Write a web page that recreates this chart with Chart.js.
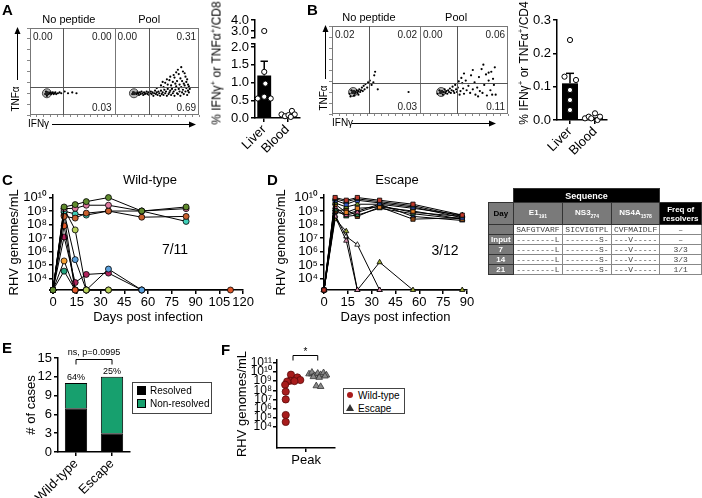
<!DOCTYPE html>
<html>
<head>
<meta charset="utf-8">
<script src="https://cdn.jsdelivr.net/npm/chart.js@4.4.1/dist/chart.umd.min.js"></script>
<style>
body { margin: 0; background: #fff; }
#fig { position: relative; width: 702px; height: 498px; overflow: hidden; font-family: 'Liberation Sans', Arial, sans-serif; color: #000; }
#fig canvas { position: absolute; }
.lbl { position: absolute; font-weight: bold; font-size: 15px; line-height: 15px; }
.txt { position: absolute; white-space: nowrap; transform: translate(-50%, -50%); }
.rot { position: absolute; white-space: nowrap; font-size: 12px; transform: translate(-50%, -50%) rotate(-90deg); }
.rot sup { font-size: 8px; }
.leg { position: absolute; border: 1px solid #444; font-size: 10px; background: #fff; }
.leg div { position: relative; height: 13px; line-height: 13px; padding-left: 17px; white-space: nowrap; }
.sw { position: absolute; left: 4px; top: 2px; width: 9px; height: 9px; }
#seq { position: absolute; left: 488px; top: 188px; border-collapse: collapse; table-layout: fixed; font-size: 8px; }
#seq td { border: 1px solid #333; padding: 0; text-align: center; overflow: hidden; white-space: nowrap; }
#seq td.blank { border: none; }
#seq td.blk { background: #000; color: #fff; font-weight: bold; }
#seq td.gry { background: #7a7a7a; color: #fff; font-weight: bold; }
#seq td.mono { font-family: 'Liberation Mono', 'Courier New', monospace; color: #444; border-color: #888; }
#seq tr.dat td { height: 9px; line-height: 9px; }
#seq sub { font-size: 5px; }
</style>
</head>
<body>
<div id="fig">
  <canvas id="flowA" width="205" height="127" style="left:0;top:8px"></canvas>
  <canvas id="cd8Lo" width="100" height="137" style="left:205px;top:33px"></canvas>
  <canvas id="cd8Up" width="100" height="42" style="left:205px;top:8px"></canvas>
  <canvas id="flowB" width="201" height="127" style="left:314px;top:8px"></canvas>
  <canvas id="cd4Bar" width="105" height="167" style="left:510px;top:8px"></canvas>
  <canvas id="wtLine" width="255" height="140" style="left:0;top:185px"></canvas>
  <canvas id="escLine" width="215" height="140" style="left:262px;top:185px"></canvas>
  <canvas id="eBar" width="124" height="158" style="left:8px;top:340px"></canvas>
  <canvas id="fPeak" width="105" height="125" style="left:235px;top:345px"></canvas>

  <div class="lbl" style="left:2px;top:2px">A</div>
  <div class="lbl" style="left:307px;top:2px">B</div>
  <div class="lbl" style="left:2px;top:172px">C</div>
  <div class="lbl" style="left:267px;top:172px">D</div>
  <div class="lbl" style="left:2px;top:340px">E</div>
  <div class="lbl" style="left:221px;top:342px">F</div>

  <div class="rot" style="left:216px;top:63px">% IFNγ<sup>+</sup> or TNFα<sup>+</sup>/CD8</div>
  <div class="rot" style="left:523px;top:63px">% IFNγ<sup>+</sup> or TNFα<sup>+</sup>/CD4</div>

  <div class="txt" style="left:150px;top:179px;font-size:13px">Wild-type</div>
  <div class="txt" style="left:397px;top:179px;font-size:13px">Escape</div>
  <div class="txt" style="left:175px;top:249px;font-size:14px">7/11</div>
  <div class="txt" style="left:445px;top:250px;font-size:14px">3/12</div>

  <table id="seq">
    <colgroup><col style="width:25px"><col style="width:50px"><col style="width:49px"><col style="width:49px"><col style="width:42px"></colgroup>
    <tr style="height:14px"><td class="blank"></td><td class="blk" colspan="3" style="font-size:9px">Sequence</td><td class="blank"></td></tr>
    <tr style="height:22px"><td class="gry" style="color:#000">Day</td><td class="gry">E1<sub>191</sub></td><td class="gry">NS3<sub>274</sub></td><td class="gry">NS4A<sub>1578</sub></td><td class="blk" style="line-height:9px">Freq of<br>resolvers</td></tr>
    <tr class="dat"><td class="gry"></td><td class="mono">SAFGTVARF</td><td class="mono">SICVIGTPL</td><td class="mono">CVFMAIDLF</td><td class="mono">–</td></tr>
    <tr class="dat"><td class="gry">Input</td><td class="mono">--------L</td><td class="mono">-------S-</td><td class="mono">---V-----</td><td class="mono">–</td></tr>
    <tr class="dat"><td class="gry">7</td><td class="mono">--------L</td><td class="mono">-------S-</td><td class="mono">---V-----</td><td class="mono">3/3</td></tr>
    <tr class="dat"><td class="gry">14</td><td class="mono">--------L</td><td class="mono">-------S-</td><td class="mono">---V-----</td><td class="mono">3/3</td></tr>
    <tr class="dat"><td class="gry">21</td><td class="mono">--------L</td><td class="mono">-------S-</td><td class="mono">---V-----</td><td class="mono">1/1</td></tr>
  </table>

  <div class="leg" style="left:132px;top:382px;width:78px;height:29px;padding-top:1px">
    <div><span class="sw" style="background:#000"></span>Resolved</div>
    <div><span class="sw" style="background:#17a06e;border:1px solid #000;width:7px;height:7px"></span>Non-resolved</div>
  </div>
  <div class="leg" style="left:343px;top:388px;width:60px;height:24px;padding-top:0">
    <div style="padding-left:14px"><span class="sw" style="left:3px;top:3px;width:6px;height:6px;border-radius:50%;background:#a81c1c"></span>Wild-type</div>
    <div style="padding-left:14px"><span class="sw" style="left:2px;top:2px;width:0;height:0;border-left:4px solid transparent;border-right:4px solid transparent;border-bottom:7px solid #333"></span>Escape</div>
  </div>
</div>

<script>
Chart.defaults.font.family = "'Liberation Sans', Arial, sans-serif";
Chart.defaults.color = '#000';
Chart.defaults.animation = false;
Chart.defaults.responsive = false;
Chart.defaults.plugins.legend.display = false;
Chart.defaults.plugins.tooltip.enabled = false;
Chart.defaults.scale.ticks.autoSkip = false;

// ---------- data ----------
const LOD = 1400; // undetectable samples sit on the x axis

// A / B flow events: x = IFNγ, y = TNFα; "No peptide" on 0-100, "Pool" on 100-200
const flowHeaders = ['No peptide', 'Pool'];
const cd8Blobs = [[20, 25], [123, 25]];
const cd8NoPep = [[18,24],[21,26],[22,24],[23,25],[24,26],[25,24],[26,25],[27,26],[28,24],[29,25],[30,26],[31,24],[33,25],[35,26],[37,25],[41,27],[45,25],[50,26],[55,25],[20,22],[19,27]];
const cd8Pool = [[121,24],[122,26],[124,25],[126,24],[127,26],[128,25],[129,23],[130,26],[131,24],[132,27],[133,25],[134,23],[135,26],[136,24],[137,25],[138,27],[139,24],[140,26],[141,23],[142,25],[143,27],[144,24],[145,26],[146,22],[147,25],[148,28],[149,24],[150,26],[151,23],[152,27],[153,25],[154,22],[155,28],[156,24],[157,26],[158,23],[159,29],[160,25],[161,27],[162,22],[163,30],[164,24],[165,26],[166,28],[167,23],[168,31],[169,25],[170,27],[171,22],[172,29],[173,33],[174,25],[175,24],[176,30],[177,27],[178,22],[179,32],[180,26],[181,29],[182,24],[183,34],[184,27],[185,31],[186,23],[187,28],[188,26],[189,30],[150,31],[155,34],[158,32],[160,37],[163,35],[165,40],[167,34],[169,38],[171,43],[172,36],[174,39],[176,47],[177,35],[178,42],[180,39],[181,50],[182,36],[184,44],[185,38],[186,41],[187,35],[175,52],[179,55],[183,48],[170,46],[166,44],[162,41],[168,30],[188,33],[173,49],[157,38]];
const cd8Quads = [['0.00', '0.00', '0.03'], ['0.00', '0.31', '0.69']];

const cd4Blobs = [[24, 25], [124, 25]];
const cd4NoPep = [[20,23],[22,27],[23,24],[25,26],[26,23],[27,25],[28,27],[29,24],[30,26],[31,28],[32,25],[33,27],[34,30],[35,26],[36,32],[37,28],[38,34],[40,30],[41,36],[43,38],[45,33],[48,44],[49,48],[47,36],[52,28],[87,25],[21,20],[25,21],[30,22]];
const cd4Pool = [[120,23],[122,27],[123,24],[125,26],[126,22],[127,25],[128,28],[129,24],[130,26],[131,23],[132,27],[133,25],[134,29],[135,24],[136,27],[137,31],[138,26],[139,24],[140,33],[141,28],[142,25],[143,30],[144,37],[145,22],[146,26],[148,35],[149,29],[150,23],[152,38],[153,27],[155,32],[157,24],[158,44],[160,28],[162,36],[163,22],[165,30],[167,42],[168,26],[170,51],[171,24],[173,33],[175,45],[176,21],[178,38],[180,27],[181,48],[182,22],[184,33],[185,53],[172,56],[160,50],[150,46],[147,41],[178,47],[183,40],[186,22],[166,20]];
const cd4Quads = [['0.02', '0.02', '0.03'], ['0.00', '0.06', '0.11']];

// A / B bar charts (Liver at x=0, Blood at x=1)
const tissues = ['Liver', 'Blood'];
const cd8Liver = [3.0, 1.3, 0.97, 0.6, 0.55, 0.55];
const cd8LiverX = [0, 0, 0.05, 0, -0.28, 0.28];
const cd8Blood = [0.1, 0.05, 0.08, 0.2, 0.1, 0.03];
const cd8BloodX = [0.75, 0.9, 1.05, 1.2, 1.32, 1.15];
const cd8Mean = [1.2, 0.09];
const cd8Sem = [0.4, 0.03];

const cd4Liver = [0.24, 0.13, 0.12, 0.09, 0.06, 0.03];
const cd4LiverX = [0, -0.22, 0.24, 0, 0, 0];
const cd4Blood = [0.005, 0.01, 0.02, 0.0, 0.01, 0.005];
const cd4BloodX = [0.6, 0.75, 1.0, 1.1, 1.2, 0.85];
const cd4Mean = [0.11, 0.008];
const cd4Sem = [0.03, 0.003];

// C: wild-type infections
const wtDays = [0, 7, 14, 21, 35, 56, 84, 112];
const wtColors = ['#5f8a2c', '#e07aa0', '#c8602e', '#3fcfb8', '#b8d15a', '#5aa0dc', '#e0582a', '#b0245c', '#f5a033', '#23a37e', '#28407a'];
const wtLoads = [
  [LOD, 2e9, 3e9, 5e9, 1e10, 1e9, 2e9, null],
  [LOD, 1.5e9, 1.6e9, 2.7e9, 2.7e9, 1e9, 1.5e9, null],
  [LOD, 4e8, 3e8, 7e8, 1e9, 3.5e8, 4e8, null],
  [LOD, 1e9, 6e8, 5e8, 1e9, 1e9, 1.7e8, null],
  [LOD, 1.5e9, 4e7, LOD, LOD, null, null, null],
  [LOD, 8e8, 2.5e5, LOD, 5e4, LOD, null, null],
  [LOD, 8e7, LOD, LOD, LOD, LOD, null, LOD],
  [LOD, 1.2e7, 5e3, 2e4, 2.5e4, LOD, null, null],
  [LOD, 2e5, LOD, LOD, null, null, null, null],
  [LOD, 3.5e4, LOD, null, null, null, null, null],
  [LOD, 5e8, LOD, LOD, null, null, null, null]
];

// D: escape variant infections
const escDays = [0, 7, 14, 21, 35, 56, 87];
const escColors = ['#c0392b', '#1a8f8f', '#3a5fcd', '#6b8e23', '#e67e22', '#d35f8d', '#2e8b57', '#8b4513', '#1f3a93', '#d98fb0', '#9aa832', '#ffffff'];
const escStyles = ['rect', 'triangle', 'rect', 'triangle', 'rect', 'triangle', 'triangle', 'rect', 'triangle', 'triangle', 'triangle', 'triangle'];
const escLoads = [
  [LOD, 1e10, 6.3e9, 1e10, 6.3e9, 3.2e9, 5e8],
  [LOD, 8e9, 5e9, 8e9, 5e9, 2.5e9, 4e8],
  [LOD, 6.3e9, 3.2e9, 6.3e9, 4e9, 2e9, 3.2e8],
  [LOD, 4e9, 2e9, 3.2e9, 3.2e9, 1.6e9, 5e8],
  [LOD, 3.2e9, 8e8, 1.6e9, 2e9, 1e9, 2.5e8],
  [LOD, 2e9, 5e8, 8e8, 2.5e9, 8e8, 4e8],
  [LOD, 1.3e9, 4e8, 5e8, 1.6e9, 6.3e8, 2.5e8],
  [LOD, 1e9, 1.3e9, 4e8, 2e9, 2.5e8, 3.2e8],
  [LOD, 8e8, 6.3e8, 1e9, 3.2e9, 4e8, 2e8],
  [LOD, 4e8, 6.3e6, LOD, LOD, null, null],
  [LOD, 2.5e8, 3.2e7, LOD, 1.6e5, LOD, LOD],
  [LOD, 5e8, 1.3e7, 3.2e6, LOD, null, null]
];
const logTicksC = [1e4, 1e5, 1e6, 1e7, 1e8, 1e9, 1e10];

// E: outcome counts
const eGroups = ['Wild-type', 'Escape'];
const eResolved = [7, 3];
const eNonResolved = [4, 9];
const ePct = ['64%', '25%'];
const eTest = 'ns, p=0.0995';

// F: peak viremia
const fWtX = [0.48, 0.7, 0.8, 0.45, 0.6, 0.35, 0.28, 0.3, 0.3, 0.3, 0.3];
const fWtY = [5e9, 2.5e9, 1.3e9, 1.1e9, 1e9, 9e8, 4e8, 7e7, 1e7, 2e5, 3.5e4];
const fEscX = [1.1, 1.2, 1.3, 1.4, 1.5, 1.6, 1.7, 1.25, 1.45, 1.65, 1.35, 1.5];
const fEscY = [6e9, 9e9, 4e9, 7e9, 5e9, 8e9, 4.5e9, 3e9, 2.5e9, 3.5e9, 3e8, 2.5e8];
const fWtMedian = 1.1e9;
const fEscMedian = 4.2e9;
const logTicksF = [1e4, 1e5, 1e6, 1e7, 1e8, 1e9, 1e10, 1e11];

// ---------- helpers ----------
const SUP = '⁰¹²³⁴⁵⁶⁷⁸⁹';
const pow10 = v => '10' + String(Math.round(Math.log10(v))).split('').map(d => SUP[d]).join('');
const setTicks = list => s => { s.ticks = list.map(v => ({value: v})); };
const pts = (xs, ys) => ys.map((y, i) => ({x: xs[i], y: y}));
const pairs = arr => arr.map(p => ({x: p[0], y: p[1]}));
const axisLine = {color: '#000', width: 1.5};
const tickGrid = {drawOnChartArea: false, color: '#000', lineWidth: 1.5, tickLength: 4};

function arrowHead(ctx, x, y, dir) {
  ctx.beginPath();
  if (dir === 'up') { ctx.moveTo(x, y - 1); ctx.lineTo(x - 3, y + 6); ctx.lineTo(x + 3, y + 6); }
  else { ctx.moveTo(x + 1, y); ctx.lineTo(x - 6, y - 3); ctx.lineTo(x - 6, y + 3); }
  ctx.closePath();
  ctx.fill();
}

// quadrant gates, frequencies and axis arrows of the flow plots
const flowPlugin = {
  id: 'flow',
  afterDraw(chart, args, o) {
    const {ctx, chartArea: a, scales: {x, y}} = chart;
    ctx.save();
    ctx.strokeStyle = '#777';
    ctx.lineWidth = 1;
    ctx.strokeRect(a.left + 0.5, a.top + 0.5, a.width - 1, a.height - 1);
    const mid = Math.round(x.getPixelForValue(100)) + 0.5;
    ctx.beginPath(); ctx.moveTo(mid, a.top); ctx.lineTo(mid, a.bottom); ctx.stroke();
    ctx.strokeStyle = '#555';
    ctx.beginPath();
    o.gateX.forEach(g => { const px = Math.round(x.getPixelForValue(g)) + 0.5; ctx.moveTo(px, a.top); ctx.lineTo(px, a.bottom); });
    const gy = Math.round(y.getPixelForValue(o.gateY)) + 0.5;
    ctx.moveTo(a.left, gy); ctx.lineTo(a.right, gy);
    ctx.stroke();

    ctx.fillStyle = '#222';
    ctx.font = "10px 'Liberation Sans', Arial";
    [[0, 100], [100, 200]].forEach((p, i) => {
      const L = x.getPixelForValue(p[0]), R = x.getPixelForValue(p[1]);
      ctx.textBaseline = 'top';
      ctx.textAlign = 'left'; ctx.fillText(o.quads[i][0], L + 3, a.top + 4);
      ctx.textAlign = 'right'; ctx.fillText(o.quads[i][1], R - 3, a.top + 4);
      ctx.textBaseline = 'bottom'; ctx.fillText(o.quads[i][2], R - 3, a.bottom - 2);
    });
    ctx.fillStyle = '#000';
    ctx.font = "11px 'Liberation Sans', Arial";
    ctx.textAlign = 'center'; ctx.textBaseline = 'bottom';
    flowHeaders.forEach((h, i) => ctx.fillText(h, x.getPixelForValue(o.headerX[i]), a.top - 3));

    // TNFα arrow
    const ax = a.left - o.arrowOff;
    ctx.strokeStyle = '#000'; ctx.lineWidth = 1;
    ctx.beginPath(); ctx.moveTo(ax + 0.5, a.bottom - 35); ctx.lineTo(ax + 0.5, a.top + 3); ctx.stroke();
    arrowHead(ctx, ax + 0.5, a.top, 'up');
    ctx.save();
    ctx.translate(ax - 1, a.bottom - 16);
    ctx.rotate(-Math.PI / 2);
    ctx.font = "10px 'Liberation Sans', Arial";
    ctx.textAlign = 'center'; ctx.textBaseline = 'middle';
    ctx.fillText('TNFα', 0, 0);
    ctx.restore();
    // IFNγ arrow
    const ay = a.bottom + 9;
    ctx.font = "10px 'Liberation Sans', Arial";
    ctx.textAlign = 'left'; ctx.textBaseline = 'middle';
    ctx.fillText('IFNγ', a.left + o.ifnOff, ay);
    ctx.beginPath(); ctx.moveTo(a.left + o.arrowStart, ay + 0.5); ctx.lineTo(a.right - o.arrowEnd - 4, ay + 0.5); ctx.stroke();
    arrowHead(ctx, a.right - o.arrowEnd, ay + 0.5, 'right');
    ctx.restore();
  }
};

function flowChart(id, blobs, noPep, pool, o) {
  return new Chart(document.getElementById(id), {
    type: 'scatter',
    data: {datasets: [
      {data: pairs(blobs), pointRadius: 2, pointBackgroundColor: '#222', pointBorderWidth: 0},
      {data: pairs(noPep.concat(pool)), pointRadius: 1.1, pointBackgroundColor: '#000', pointBorderWidth: 0},
      {data: pairs(blobs), pointRadius: 4.5, pointBackgroundColor: '#b5b5b5', pointBorderColor: '#444', pointBorderWidth: 1}
    ]},
    options: {
      layout: {padding: {top: o.padTop, right: o.padRight}},
      scales: {
        x: {type: 'linear', min: 0, max: 200, afterFit: s => { s.height = o.xH; },
            border: {display: false}, grid: {drawOnChartArea: false, tickLength: 2, color: '#888'},
            ticks: {display: false, stepSize: 8}},
        y: {min: 0, max: 100, afterFit: s => { s.width = o.yW; },
            border: {display: false}, grid: {drawOnChartArea: false, tickLength: 3, color: '#888'},
            ticks: {display: false, stepSize: 12.5}}
      },
      plugins: {flow: o}
    },
    plugins: [flowPlugin]
  });
}

flowChart('flowA', cd8Blobs, cd8NoPep, cd8Pool, {
  padTop: 20, padRight: 6, yW: 30, xH: 20, gateX: [38.5, 140.7], gateY: 32,
  quads: cd8Quads, headerX: [46, 141], arrowOff: 13, ifnOff: -2, arrowStart: 22, arrowEnd: 4
});
flowChart('flowB', cd4Blobs, cd4NoPep, cd4Pool, {
  padTop: 18, padRight: 7, yW: 18, xH: 21, gateX: [42.5, 141.6], gateY: 35,
  quads: cd4Quads, headerX: [42, 141], arrowOff: 7, ifnOff: 0, arrowStart: 20, arrowEnd: 13
});

// ----- A: CD8 bar with broken axis -----
const cd8Up = cd8Liver.map((v, i) => ({x: cd8LiverX[i], y: v})).filter(p => p.y > 2.1);
const cd8LoPts = cd8Liver.map((v, i) => ({x: cd8LiverX[i], y: v})).filter(p => p.y <= 2.1).concat(pts(cd8BloodX, cd8Blood));
const dotStyle = {type: 'scatter', pointRadius: 2.6, pointBackgroundColor: '#fff', pointBorderColor: '#000', pointBorderWidth: 1, clip: false};

new Chart(document.getElementById('cd8Up'), {
  type: 'scatter',
  data: {datasets: [Object.assign({data: cd8Up}, dotStyle)]},
  options: {
    layout: {padding: {top: 12, right: 5}},
    scales: {
      x: {type: 'linear', min: -0.4, max: 1.55, afterFit: s => { s.height = 12.4; },
          border: {display: false}, grid: {display: false}, ticks: {display: false}},
      y: {min: 2.4, max: 4, afterBuildTicks: setTicks([2.4, 3, 4]), afterFit: s => { s.width = 50; },
          border: axisLine, grid: tickGrid,
          ticks: {font: {size: 13}, padding: 2, callback: v => v === 2.4 ? '' : v.toFixed(1)}}
    }
  }
});

function tissueBar(id, liverPts, mean, sem, o) {
  return new Chart(document.getElementById(id), {
    type: 'bar',
    data: {datasets: [
      Object.assign({data: liverPts}, dotStyle),
      {type: 'line', data: [{x: 0, y: mean[0]}, {x: 0, y: mean[0] + sem[0]}], borderColor: '#000', borderWidth: 1.5, pointRadius: 0},
      {type: 'line', data: [{x: -0.16, y: mean[0] + sem[0]}, {x: 0.16, y: mean[0] + sem[0]}], borderColor: '#000', borderWidth: 1.5, pointRadius: 0},
      {type: 'bar', data: [{x: 0, y: mean[0]}, {x: 1, y: mean[1]}], backgroundColor: '#000', barPercentage: o.barPct, categoryPercentage: 1}
    ]},
    options: {
      layout: {padding: {top: o.padTop, right: o.padRight}},
      scales: {
        x: {type: 'linear', offset: false, min: o.xMin, max: o.xMax, afterBuildTicks: setTicks([0, 1]),
            afterFit: s => { s.height = o.xH; }, border: axisLine, grid: Object.assign({offset: false}, tickGrid),
            ticks: {font: {size: 13}, minRotation: 45, maxRotation: 45, padding: 0, callback: v => tissues[v]}},
        y: {min: 0, max: o.yMax, afterBuildTicks: setTicks(o.yTicks), afterFit: s => { s.width = o.yW; },
            border: axisLine, grid: tickGrid,
            ticks: {font: {size: 13}, padding: 2, callback: v => o.yTicks.indexOf(v) < o.nLabels ? v.toFixed(1) : ''}}
      }
    }
  });
}

tissueBar('cd8Lo', cd8LoPts, cd8Mean, cd8Sem, {
  padTop: 10.5, padRight: 5, xMin: -0.4, xMax: 1.55, xH: 52, yW: 50, yMax: 2.1,
  yTicks: [0, 0.5, 1, 1.5, 2, 2.1], nLabels: 5, barPct: 0.6
});
tissueBar('cd4Bar', pts(cd4LiverX, cd4Liver).concat(pts(cd4BloodX, cd4Blood)), cd4Mean, cd4Sem, {
  padTop: 12, padRight: 8, xMin: -0.52, xMax: 1.48, xH: 55, yW: 47, yMax: 0.3,
  yTicks: [0, 0.1, 0.2, 0.3], nLabels: 4, barPct: 0.64
});

// ----- C / D: viral load curves -----
function loadChart(id, days, loads, colors, styles, xMax, xTicks, yW, titlePad) {
  return new Chart(document.getElementById(id), {
    type: 'line',
    data: {datasets: loads.map((s, i) => ({
      data: days.map((d, j) => ({x: d, y: s[j]})),
      borderColor: '#000', borderWidth: 1, tension: 0, spanGaps: true, clip: false,
      pointRadius: 3, pointStyle: styles[i], pointBackgroundColor: colors[i],
      pointBorderColor: '#000', pointBorderWidth: 0.8
    }))},
    options: {
      layout: {padding: {top: 8, right: 10}},
      scales: {
        x: {type: 'linear', min: 0, max: xMax, afterBuildTicks: setTicks(xTicks), afterFit: s => { s.height = 35; },
            border: axisLine, grid: tickGrid, ticks: {font: {size: 13}, padding: 1, maxRotation: 0},
            title: {display: true, text: 'Days post infection', font: {size: 13}, padding: {top: 0, bottom: 0}}},
        y: {type: 'logarithmic', min: LOD, max: 1.6e10, afterBuildTicks: setTicks(logTicksC), afterFit: s => { s.width = yW; },
            border: axisLine, grid: tickGrid, ticks: {font: {size: 13}, padding: 2, callback: v => pow10(v)},
            title: {display: true, text: 'RHV genomes/mL', font: {size: 13}, padding: {top: titlePad, bottom: 0}}}
      }
    }
  });
}

loadChart('wtLine', wtDays, wtLoads, wtColors, wtColors.map(() => 'circle'), 120,
  [0, 15, 30, 45, 60, 75, 90, 105, 120], 53, 7);
loadChart('escLine', escDays, escLoads, escColors, escStyles, 90,
  [0, 15, 30, 45, 60, 75, 90], 62, 12);

// ----- E: outcome -----
const ePlugin = {
  id: 'eNotes',
  afterDatasetsDraw(chart) {
    const {ctx, scales: {x, y}} = chart;
    ctx.save();
    ctx.fillStyle = '#000';
    ctx.font = "9px 'Liberation Sans', Arial";
    ctx.textAlign = 'center'; ctx.textBaseline = 'bottom';
    eGroups.forEach((g, i) => ctx.fillText(ePct[i], x.getPixelForValue(i), y.getPixelForValue(eResolved[i] + eNonResolved[i]) - 1));
    const x1 = x.getPixelForValue(0), x2 = x.getPixelForValue(1), yb = Math.round(y.getPixelForValue(15)) + 1.5;
    ctx.strokeStyle = '#000'; ctx.lineWidth = 1;
    ctx.beginPath(); ctx.moveTo(x1, yb + 5); ctx.lineTo(x1, yb); ctx.lineTo(x2, yb); ctx.lineTo(x2, yb + 5); ctx.stroke();
    ctx.fillText(eTest, (x1 + x2) / 2, yb - 2);
    ctx.restore();
  }
};

new Chart(document.getElementById('eBar'), {
  type: 'bar',
  data: {labels: eGroups, datasets: [
    {data: eResolved, backgroundColor: '#000', borderColor: '#000', borderWidth: 1, barPercentage: 0.62, categoryPercentage: 1},
    {data: eNonResolved, backgroundColor: '#17a06e', borderColor: '#000', borderWidth: 1, barPercentage: 0.62, categoryPercentage: 1}
  ]},
  options: {
    layout: {padding: {top: 18, right: 2}},
    scales: {
      x: {stacked: true, afterFit: s => { s.height = 46; }, border: axisLine,
          grid: Object.assign({offset: false}, tickGrid),
          ticks: {font: {size: 13}, minRotation: 45, maxRotation: 45, padding: 0}},
      y: {stacked: true, min: 0, max: 15, afterBuildTicks: setTicks([0, 3, 6, 9, 12, 15]), afterFit: s => { s.width = 50; },
          border: axisLine, grid: tickGrid, ticks: {font: {size: 13}, padding: 2},
          title: {display: true, text: '# of cases', font: {size: 13}, padding: {top: 16, bottom: 0}}}
    }
  },
  plugins: [ePlugin]
});

// ----- F: peak viremia -----
const fPlugin = {
  id: 'fNotes',
  afterDraw(chart) {
    const {ctx, scales: {x, y}} = chart;
    const x1 = x.getPixelForValue(0.55), x2 = x.getPixelForValue(1.4), yb = Math.round(y.getPixelForValue(1e11)) - 7.5;
    ctx.save();
    ctx.strokeStyle = '#000'; ctx.lineWidth = 1;
    ctx.beginPath(); ctx.moveTo(x1, yb + 5); ctx.lineTo(x1, yb); ctx.lineTo(x2, yb); ctx.lineTo(x2, yb + 5); ctx.stroke();
    ctx.fillStyle = '#000'; ctx.font = "10px 'Liberation Sans', Arial";
    ctx.textAlign = 'center'; ctx.textBaseline = 'bottom';
    ctx.fillText('*', (x1 + x2) / 2, yb + 2);
    ctx.restore();
  }
};

new Chart(document.getElementById('fPeak'), {
  type: 'scatter',
  data: {datasets: [
    {data: pts(fWtX, fWtY), pointRadius: 3.6, pointBackgroundColor: '#a81c1c', pointBorderColor: '#5a0a0a', pointBorderWidth: 0.8, clip: false},
    {data: pts(fEscX, fEscY), pointStyle: 'triangle', pointRadius: 3.8, pointBackgroundColor: '#8a8a8a', pointBorderColor: '#333', pointBorderWidth: 0.8, clip: false},
    {type: 'line', data: [{x: 0.27, y: fWtMedian}, {x: 0.85, y: fWtMedian}], borderColor: '#000', borderWidth: 1.5, pointRadius: 0},
    {type: 'line', data: [{x: 1.08, y: fEscMedian}, {x: 1.74, y: fEscMedian}], borderColor: '#000', borderWidth: 1.5, pointRadius: 0}
  ]},
  options: {
    layout: {padding: {top: 15, right: 2}},
    scales: {
      x: {type: 'linear', min: 0, max: 2, afterBuildTicks: setTicks([1]), afterFit: s => { s.height = 22; },
          border: axisLine, grid: tickGrid, ticks: {font: {size: 13}, padding: 1, callback: () => 'Peak'}},
      y: {type: 'logarithmic', min: 50, max: 2e11, afterBuildTicks: setTicks(logTicksF), afterFit: s => { s.width = 42; },
          border: axisLine, grid: tickGrid, ticks: {font: {size: 12}, padding: 1, callback: v => pow10(v)},
          title: {display: true, text: 'RHV genomes/mL', font: {size: 13}, padding: {top: 0, bottom: 0}}}
    }
  },
  plugins: [fPlugin]
});
</script>
</body>
</html>
